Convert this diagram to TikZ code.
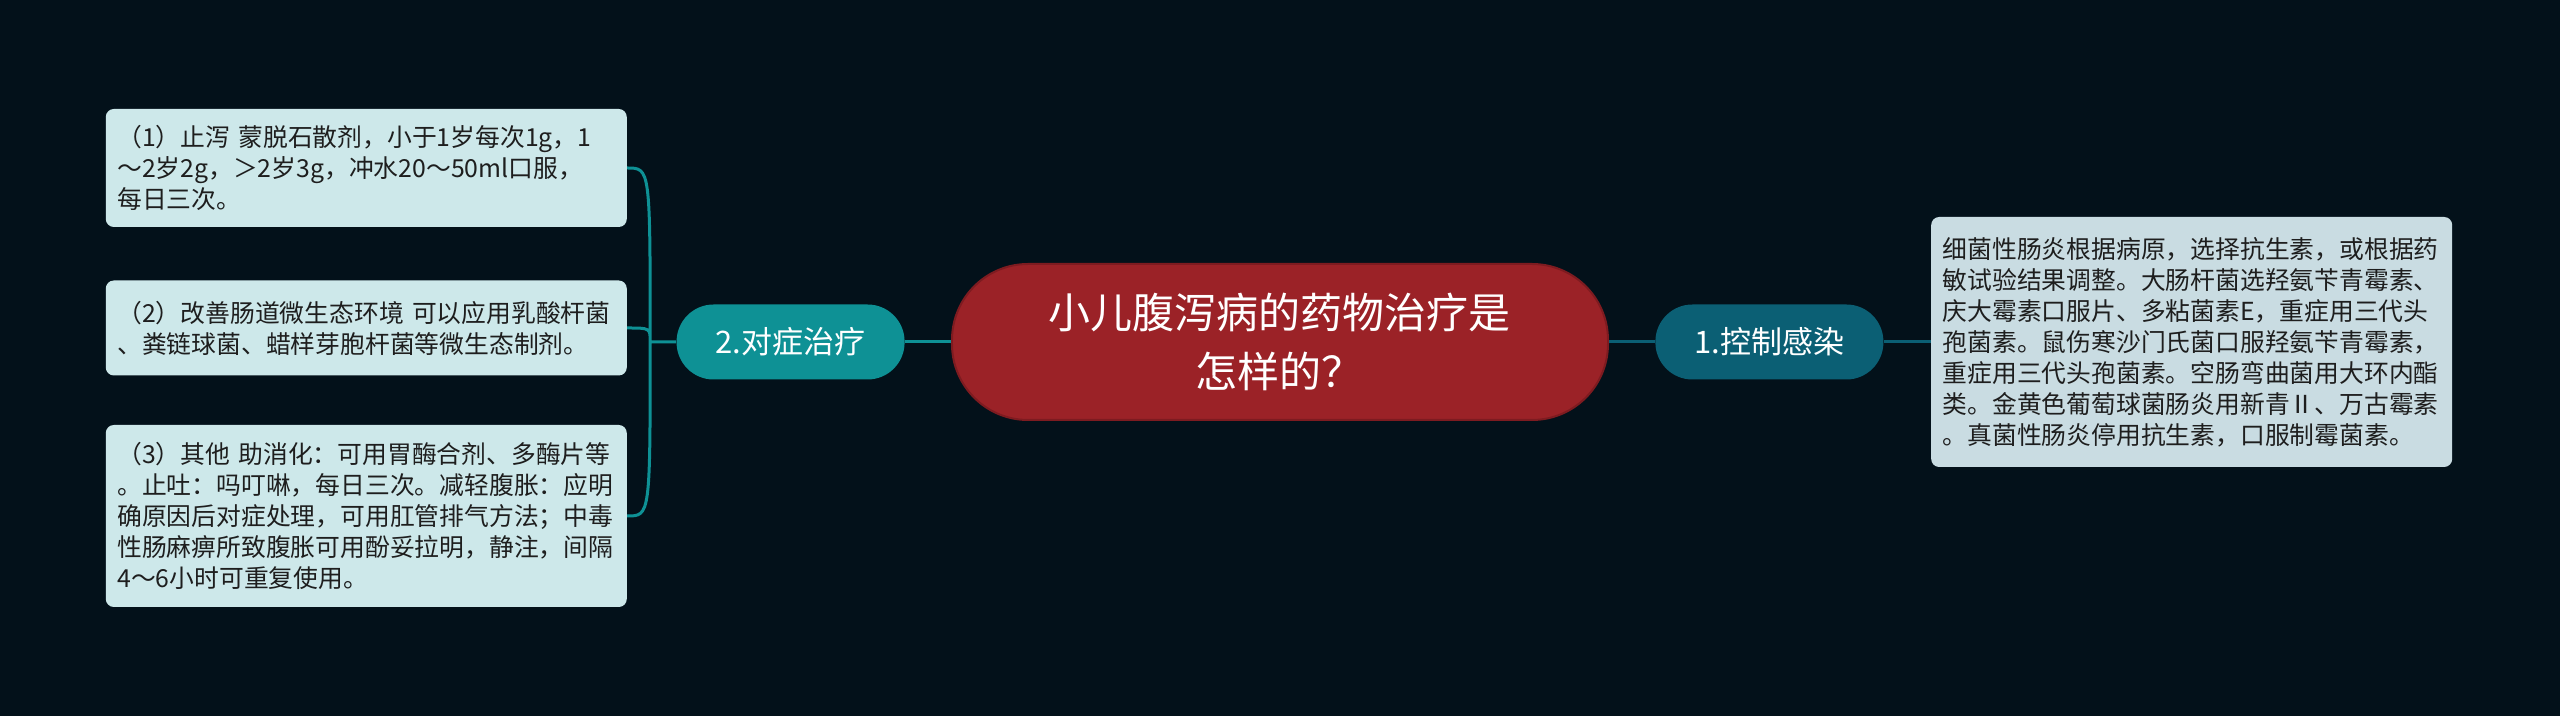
\documentclass[tikz,border=0pt]{standalone}
\usepackage{fontspec}
\setmainfont{Noto Sans CJK SC}
\usetikzlibrary{positioning}
\definecolor{bgdark}{HTML}{03111A}
\definecolor{rootred}{HTML}{9B2227}
\definecolor{rootedge}{HTML}{7E1B20}
\definecolor{treatteal}{HTML}{0E9195}
\definecolor{ctrlteal}{HTML}{0B5F74}
\definecolor{leafcyan}{HTML}{CDE8EA}
\definecolor{leafgrey}{HTML}{C9DCE2}
\definecolor{leaftext}{HTML}{1E1E1E}

\begin{document}
\begin{tikzpicture}[node distance=23pt,
    root/.style={draw=rootedge,line width=1pt,fill=rootred,text=white,rounded corners=38pt,
      minimum width=328pt,minimum height=78pt,align=center,font=\fontsize{21}{29.5}\selectfont},
    branch/.style={fill=#1,text=white,rounded corners=18.5pt,minimum width=114pt,
      minimum height=37.5pt,font=\fontsize{15.5}{18}\selectfont},
    leaf/.style={fill=#1,text=leaftext,rounded corners=4pt,inner xsep=5.75pt,inner ysep=7pt,
      text width=249pt,align=left,font=\fontsize{12.4}{15.5}\selectfont},
    link/.style={draw=#1,line width=1.5pt}]
  \fill[bgdark] (-640pt,-187pt) rectangle (640pt,171pt);

  \node[root]               (root) at (0,0)             {小儿腹泻病的药物治疗是\\怎样的？};
  \node[branch=treatteal]   (treat) [left=of root]      {2.对症治疗};
  \node[branch=ctrlteal]    (ctrl) [right=of root]      {1.控制感染};
  \node[leaf=leafgrey,minimum height=125pt] (detail) [right=23.5pt of ctrl]
    {细菌性肠炎根据病原，选择抗生素，或根据药\\敏试验结果调整。大肠杆菌选羟氨苄青霉素、\\庆大霉素口服片、多粘菌素E，重症用三代头\\孢菌素。鼠伤寒沙门氏菌口服羟氨苄青霉素，\\重症用三代头孢菌素。空肠弯曲菌用大环内酯\\类。金黄色葡萄球菌肠炎用新青Ⅱ、万古霉素\\。真菌性肠炎停用抗生素，口服制霉菌素。};
  \node[leaf=leafcyan,minimum height=59pt] (stopd) [left=24.5pt of treat,yshift=87pt]
    {（1）止泻 蒙脱石散剂，小于1岁每次1g，1\\～2岁2g，＞2岁3g，冲水20～50ml口服，\\每日三次。};
  \node[leaf=leafcyan,minimum height=47.5pt] (flora) [left=24.5pt of treat,yshift=7pt]
    {（2）改善肠道微生态环境 可以应用乳酸杆菌\\、粪链球菌、蜡样芽胞杆菌等微生态制剂。};
  \node[leaf=leafcyan,minimum height=91pt] (other) [left=24.5pt of treat,yshift=-87pt]
    {（3）其他 助消化：可用胃酶合剂、多酶片等\\。止吐：吗叮啉，每日三次。减轻腹胀：应明\\确原因后对症处理，可用肛管排气方法；中毒\\性肠麻痹所致腹胀可用酚妥拉明，静注，间隔\\4～6小时可重复使用。};
  \coordinate (hub) at ([xshift=-13pt]treat.west);

  \draw[link=treatteal] (root) -- (treat);
  \draw[link=ctrlteal]  (root) -- (ctrl)
                        (ctrl) -- (detail);
  \draw[link=treatteal] (treat.west) -- (hub)
        (hub) .. controls (hub |- stopd.east) .. (stopd.east)
        (hub) .. controls (hub |- flora.east) .. (flora.east)
        (hub) .. controls (hub |- other.east) .. (other.east);
\end{tikzpicture}
\end{document}
